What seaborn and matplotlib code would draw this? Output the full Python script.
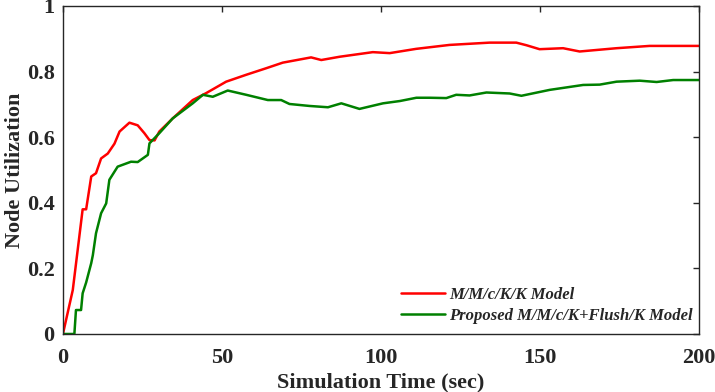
import matplotlib
matplotlib.use("Agg")
import matplotlib.pyplot as plt
import seaborn as sns
import pandas as pd

# red curve: M/M/c/K/K model
t_mmck = [0, 3.1, 6.2, 7.3, 8.9, 10.4, 12, 14.1, 16.2, 17.8, 20.9, 23.5, 25.6, 27.2,
          28.8, 30.3, 34.5, 40.8, 45, 51.3, 57.6, 63.9, 69.1, 78, 81.2, 87, 97.4,
          102.7, 111, 121.5, 134.1, 142.5, 145.7, 149.8, 157.2, 162.4, 174, 184.4, 200]
u_mmck = [0, 0.134, 0.38, 0.38, 0.48, 0.49, 0.535, 0.55, 0.58, 0.617, 0.644, 0.636,
          0.612, 0.591, 0.59, 0.617, 0.657, 0.713, 0.734, 0.769, 0.79, 0.81, 0.827,
          0.843, 0.835, 0.845, 0.859, 0.856, 0.869, 0.881, 0.888, 0.888, 0.88, 0.868,
          0.871, 0.861, 0.871, 0.878, 0.878]

# green curve: proposed M/M/c/K+Flush/K model
t_flush = [0, 3.6, 4.1, 5.7, 6.2, 7.3, 8.9, 9.4, 10.4, 12, 13.6, 14.6, 17.2, 21.4,
           23.5, 26.7, 27.2, 30.3, 34.5, 40.8, 44, 47.1, 51.8, 57.6, 64.4, 68.6,
           71.2, 77.5, 83.3, 87.5, 93.2, 100.6, 105.9, 111.1, 115.3, 120.5, 123.6,
           127.8, 133.1, 140.4, 144.1, 153, 163.5, 168.7, 174, 181.3, 186.6, 191.8, 200]
u_flush = [0, 0, 0.073, 0.073, 0.124, 0.157, 0.216, 0.24, 0.307, 0.368, 0.398, 0.47,
           0.51, 0.525, 0.524, 0.546, 0.581, 0.612, 0.657, 0.703, 0.729, 0.723, 0.742,
           0.729, 0.713, 0.713, 0.701, 0.695, 0.691, 0.703, 0.686, 0.703, 0.71, 0.72,
           0.72, 0.719, 0.729, 0.727, 0.736, 0.733, 0.726, 0.744, 0.759, 0.76, 0.769,
           0.772, 0.768, 0.774, 0.774]

lab1 = "M/M/c/K/K Model"
lab2 = "Proposed M/M/c/K+Flush/K Model"

df = pd.concat([
    pd.DataFrame({"time": t_mmck, "util": u_mmck, "model": lab1}),
    pd.DataFrame({"time": t_flush, "util": u_flush, "model": lab2}),
])

sns.set_style("white")
plt.rcParams["font.family"] = ["Liberation Serif", "DejaVu Serif"]
plt.rcParams["font.weight"] = "bold"

fig, ax = plt.subplots(figsize=(7.15, 3.92), dpi=100)
fig.subplots_adjust(left=0.088, right=0.978, bottom=0.148, top=0.985)

sns.lineplot(data=df, x="time", y="util", hue="model", sort=False,
             palette={lab1: "#ff0000", lab2: "#008000"}, linewidth=1.8, ax=ax)

ax.set_xlim(0, 200)
ax.set_ylim(0, 1)
ax.set_xticks([0, 50, 100, 150, 200])
ax.set_yticks([0, 0.2, 0.4, 0.6, 0.8, 1])
ax.set_yticklabels(["0", "0.2", "0.4", "0.6", "0.8", "1"])
ax.tick_params(direction="in", top=True, right=True, length=4, width=1,
               labelsize=16, colors="#262626")
ax.tick_params(axis="y", pad=6)
ax.tick_params(axis="x", pad=10)
for lbl in ax.get_xticklabels() + ax.get_yticklabels():
    lbl.set_fontweight("bold")
for sp in ax.spines.values():
    sp.set_color("#262626")
    sp.set_linewidth(1)

ax.set_xlabel("Simulation Time (sec)", fontsize=16, fontweight="bold",
              color="#262626", labelpad=3)
ax.set_ylabel("Node Utilization", fontsize=16, fontweight="bold", color="#262626")
ax.yaxis.set_label_coords(-0.06, 0.5)

leg = ax.legend(loc="lower right", bbox_to_anchor=(1.0, 0.01), frameon=False,
                borderaxespad=0, borderpad=0.4,
                prop={"size": 12, "style": "italic", "weight": "bold"},
                handlelength=2.6, handletextpad=0.25, labelspacing=0.33)

fig.savefig("out.png", dpi=100)
